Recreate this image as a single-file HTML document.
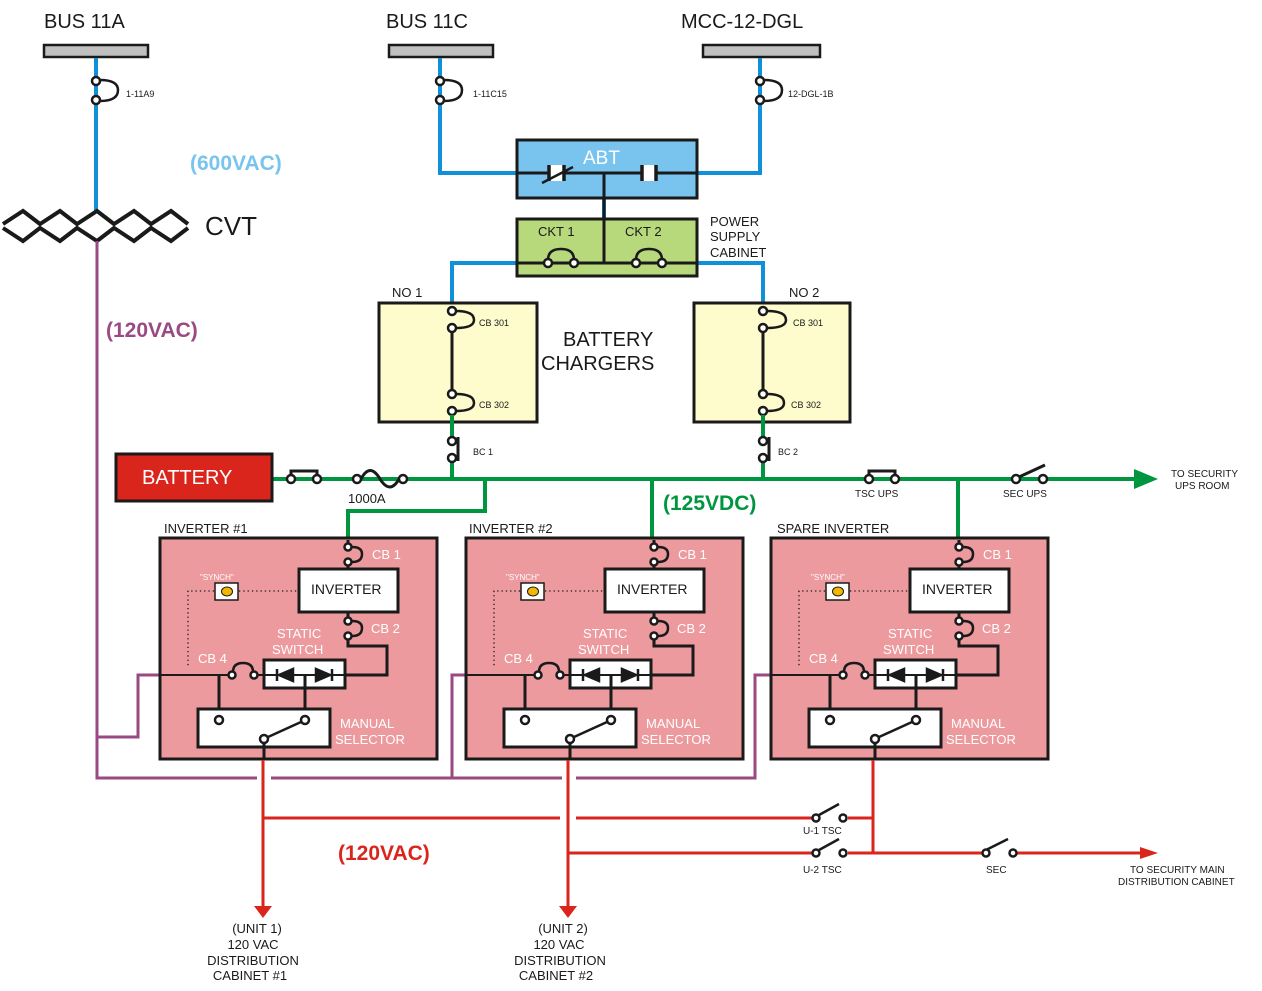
<!DOCTYPE html>
<html><head><meta charset="utf-8"><style>
html,body{margin:0;padding:0;background:#fff;}
svg{display:block;font-family:"Liberation Sans",sans-serif;}
</style></head><body>
<svg width="1262" height="991" viewBox="0 0 1262 991" xmlns="http://www.w3.org/2000/svg">
<defs>
<g id="inv">
  <rect x="160" y="538" width="277" height="221" fill="#ec9a9e" stroke="#1a1a1a" stroke-width="3"/>
  <path d="M348 540 V547" stroke="#1a1a1a" stroke-width="3"/>
  <path d="M352 547 Q362 547 362 554 Q362 562 352 562" fill="none" stroke="#1a1a1a" stroke-width="2.5"/>
  <circle cx="348" cy="547" r="3.5" fill="#fff" stroke="#1a1a1a" stroke-width="2.5"/>
  <circle cx="348" cy="562" r="3.5" fill="#fff" stroke="#1a1a1a" stroke-width="2.5"/>
  <path d="M348 565 V569" stroke="#1a1a1a" stroke-width="3"/>
  <rect x="299" y="569" width="99" height="43" fill="#fff" stroke="#1a1a1a" stroke-width="3"/>
  <text x="311" y="594" font-size="14" fill="#1a1a1a">INVERTER</text>
  <text x="372" y="559" font-size="13" fill="#fff">CB 1</text>
  <path d="M348 612 V621" stroke="#1a1a1a" stroke-width="3"/>
  <path d="M352 621 Q362 621 362 628 Q362 636 352 636" fill="none" stroke="#1a1a1a" stroke-width="2.5"/>
  <circle cx="348" cy="621" r="3.5" fill="#fff" stroke="#1a1a1a" stroke-width="2.5"/>
  <circle cx="348" cy="636" r="3.5" fill="#fff" stroke="#1a1a1a" stroke-width="2.5"/>
  <text x="371" y="633" font-size="13" fill="#fff">CB 2</text>
  <path d="M348 639 V646 H387 V675 H345" fill="none" stroke="#1a1a1a" stroke-width="3"/>
  <text x="277" y="638" font-size="13" fill="#fff">STATIC</text>
  <text x="272" y="654" font-size="13" fill="#fff">SWITCH</text>
  <rect x="264" y="660" width="81" height="28" fill="#fff" stroke="#1a1a1a" stroke-width="3"/>
  <path d="M264 675 H345" stroke="#1a1a1a" stroke-width="2"/>
  <path d="M277 669 V681 M279 675 L293 669 V681 Z" fill="#1a1a1a" stroke="#1a1a1a" stroke-width="2.5"/>
  <path d="M332 669 V681 M330 675 L316 669 V681 Z" fill="#1a1a1a" stroke="#1a1a1a" stroke-width="2.5"/>
  <path d="M305 675 V709" stroke="#1a1a1a" stroke-width="3"/>
  <path d="M160 675 H229 M257 675 H264" stroke="#1a1a1a" stroke-width="2"/>
  <path d="M233 672 Q233 663 243 663 Q253 663 253 672" fill="none" stroke="#1a1a1a" stroke-width="2.5"/>
  <circle cx="232" cy="675" r="3.5" fill="#fff" stroke="#1a1a1a" stroke-width="2.5"/>
  <circle cx="254" cy="675" r="3.5" fill="#fff" stroke="#1a1a1a" stroke-width="2.5"/>
  <text x="198" y="663" font-size="13" fill="#fff">CB 4</text>
  <path d="M219 675 V709" stroke="#1a1a1a" stroke-width="3"/>
  <rect x="198" y="709" width="132" height="38" fill="#fff" stroke="#1a1a1a" stroke-width="3"/>
  <circle cx="219" cy="720" r="4" fill="#fff" stroke="#1a1a1a" stroke-width="2.5"/>
  <circle cx="305" cy="720" r="4" fill="#fff" stroke="#1a1a1a" stroke-width="2.5"/>
  <path d="M268 737 L301 722" stroke="#1a1a1a" stroke-width="2.5"/>
  <circle cx="264" cy="739" r="4" fill="#fff" stroke="#1a1a1a" stroke-width="2.5"/>
  <path d="M264 743 V759" stroke="#1a1a1a" stroke-width="3"/>
  <text x="340" y="728" font-size="13" fill="#fff">MANUAL</text>
  <text x="335" y="744" font-size="13" fill="#fff">SELECTOR</text>
  <text x="200" y="580" font-size="8" fill="#fff">"SYNCH"</text>
  <rect x="215" y="583" width="23" height="17" fill="#fff" stroke="#1a1a1a" stroke-width="1.5"/>
  <ellipse cx="227" cy="591.5" rx="5.5" ry="4.5" fill="#f0b800" stroke="#1a1a1a" stroke-width="1"/>
  <path d="M239 591 H299 M214 591 H188 V667" fill="none" stroke="#1a1a1a" stroke-width="1.3" stroke-dasharray="1.3 3"/>
</g>
</defs>

<g font-size="20" fill="#1a1a1a">
<text x="44" y="28">BUS 11A</text><text x="386" y="28">BUS 11C</text><text x="681" y="28">MCC-12-DGL</text>
<text x="205" y="235" font-size="26">CVT</text>
</g>
<rect x="44" y="45" width="104" height="12" fill="#c0c0c0" stroke="#1a1a1a" stroke-width="2.5"/>
<rect x="389" y="45" width="104" height="12" fill="#c0c0c0" stroke="#1a1a1a" stroke-width="2.5"/>
<rect x="703" y="45" width="117" height="12" fill="#c0c0c0" stroke="#1a1a1a" stroke-width="2.5"/>

<g stroke="#1090d8" stroke-width="4" fill="none">
<path d="M96 58 V211"/>
<path d="M440 58 V173 H517"/>
<path d="M760 58 V173 H697"/>
<path d="M604 198 V219"/>
<path d="M517 263 H452 V303"/>
<path d="M697 263 H763 V303"/>
</g>
<g fill="none" stroke="#1a1a1a" stroke-width="2.5">
<path d="M100 80 Q118 80 118 90 Q118 101 100 101"/>
<path d="M444 80 Q462 80 462 90 Q462 101 444 101"/>
<path d="M764 80 Q782 80 782 90 Q782 101 764 101"/>
</g>
<g fill="#fff" stroke="#1a1a1a" stroke-width="2.5">
<circle cx="96" cy="81" r="4"/><circle cx="96" cy="100" r="4"/>
<circle cx="440" cy="81" r="4"/><circle cx="440" cy="100" r="4"/>
<circle cx="760" cy="81" r="4"/><circle cx="760" cy="100" r="4"/>
</g>
<g font-size="9" fill="#1a1a1a">
<text x="126" y="97">1-11A9</text><text x="473" y="97">1-11C15</text><text x="788" y="97">12-DGL-1B</text>
</g>
<text x="190" y="170" font-size="21" font-weight="bold" fill="#78c4ee">(600VAC)</text>

<g fill="none" stroke="#1a1a1a" stroke-width="4">
<path d="M3 224 L23 211 L40 224 L60 211 L77 224 L97 211 L114 224 L134 211 L151 224 L171 211 L188 224"/>
<path d="M3 228 L23 241 L40 228 L60 241 L77 228 L97 241 L114 228 L134 241 L151 228 L171 241 L188 228"/>
</g>

<rect x="517" y="140" width="180" height="58" fill="#78c4ee" stroke="#1a1a1a" stroke-width="3"/>
<text x="583" y="164" font-size="19" fill="#fff">ABT</text>
<path d="M517 173 H697 M604 173 V263" stroke="#1a1a1a" stroke-width="3"/>
<rect x="549" y="165" width="15" height="16" fill="#fff"/>
<path d="M549 165 V181 M564 165 V181" stroke="#1a1a1a" stroke-width="3.5"/>
<path d="M542 183 L573 167" stroke="#1a1a1a" stroke-width="2.5"/>
<rect x="642" y="165" width="14" height="16" fill="#fff"/>
<path d="M642 165 V181 M656 165 V181" stroke="#1a1a1a" stroke-width="3.5"/>

<rect x="517" y="219" width="180" height="57" fill="#b8d87c" stroke="#1a1a1a" stroke-width="3"/>
<path d="M604 219 V263 M517 263 H697" stroke="#1a1a1a" stroke-width="3"/>
<text x="538" y="236" font-size="13" fill="#1a1a1a">CKT 1</text>
<text x="625" y="236" font-size="13" fill="#1a1a1a">CKT 2</text>
<path d="M548 260 Q548 249 561 249 Q574 249 574 260 M636 260 Q636 249 649 249 Q662 249 662 260" fill="none" stroke="#1a1a1a" stroke-width="2.5"/>
<g fill="#fff" stroke="#1a1a1a" stroke-width="2.5">
<circle cx="548" cy="263" r="4"/><circle cx="574" cy="263" r="4"/><circle cx="636" cy="263" r="4"/><circle cx="662" cy="263" r="4"/>
</g>
<g font-size="13" fill="#1a1a1a"><text x="710" y="226">POWER</text><text x="710" y="241">SUPPLY</text><text x="710" y="257">CABINET</text></g>

<g font-size="13" fill="#1a1a1a"><text x="392" y="297">NO 1</text><text x="789" y="297">NO 2</text></g>
<text x="563" y="346" font-size="20" fill="#1a1a1a">BATTERY</text>
<text x="541" y="370" font-size="20" fill="#1a1a1a">CHARGERS</text>
<rect x="379" y="303" width="158" height="119" fill="#fefccc" stroke="#1a1a1a" stroke-width="3"/>
<rect x="694" y="303" width="156" height="119" fill="#fefccc" stroke="#1a1a1a" stroke-width="3"/>
<g stroke="#1a1a1a" stroke-width="3"><path d="M452 328 V394"/><path d="M763 328 V394"/></g>
<g fill="none" stroke="#1a1a1a" stroke-width="2.5">
<path d="M456 311 Q474 311 474 320 Q474 328 456 328"/>
<path d="M456 394 Q474 394 474 403 Q474 411 456 411"/>
<path d="M767 311 Q786 311 786 320 Q786 328 767 328"/>
<path d="M767 394 Q784 394 784 403 Q784 411 767 411"/>
</g>
<g fill="#fff" stroke="#1a1a1a" stroke-width="2.5">
<circle cx="452" cy="311" r="4"/><circle cx="452" cy="328" r="4"/><circle cx="452" cy="394" r="4"/><circle cx="452" cy="411" r="4"/>
<circle cx="763" cy="311" r="4"/><circle cx="763" cy="328" r="4"/><circle cx="763" cy="394" r="4"/><circle cx="763" cy="411" r="4"/>
</g>
<g font-size="9" fill="#1a1a1a">
<text x="479" y="326">CB 301</text><text x="479" y="408">CB 302</text>
<text x="793" y="326">CB 301</text><text x="791" y="408">CB 302</text>
<text x="473" y="455">BC 1</text><text x="778" y="455">BC 2</text>
</g>

<g stroke="#009640" stroke-width="4" fill="none">
<path d="M452 415 V437 M452 462 V479"/>
<path d="M763 415 V437 M763 462 V479"/>
<path d="M273 479 H1138"/>
<path d="M485 479 V511 H348 V538"/>
<path d="M652 479 V538"/>
<path d="M958 479 V538"/>
</g>
<path d="M1134 469 L1158 479 L1134 489 Z" fill="#009640"/>
<g stroke="#1a1a1a" stroke-width="3" fill="none">
<path d="M458 437 V461"/><path d="M769 437 V461"/>
<path d="M291 475 V471 H317 V475"/>
<path d="M361 479 Q370 462 380 479 Q390 495 399 479"/>
<path d="M869 475 V471 H895 V475"/>
<path d="M1019 477 L1045 465"/>
</g>
<g fill="#fff" stroke="#1a1a1a" stroke-width="2.5">
<circle cx="452" cy="441" r="4"/><circle cx="452" cy="458" r="4"/>
<circle cx="763" cy="441" r="4"/><circle cx="763" cy="458" r="4"/>
<circle cx="291" cy="479" r="4"/><circle cx="317" cy="479" r="4"/>
<circle cx="357" cy="479" r="4"/><circle cx="403" cy="479" r="4"/>
<circle cx="869" cy="479" r="4"/><circle cx="895" cy="479" r="4"/>
<circle cx="1016" cy="479" r="4"/><circle cx="1043" cy="479" r="4"/>
</g>
<rect x="116" y="454" width="156" height="47" fill="#da251d" stroke="#1a1a1a" stroke-width="3"/>
<text x="142" y="484" font-size="20" fill="#fff">BATTERY</text>
<text x="348" y="503" font-size="13" fill="#1a1a1a">1000A</text>
<text x="663" y="510" font-size="21" font-weight="bold" fill="#009640">(125VDC)</text>
<g font-size="10" fill="#1a1a1a">
<text x="855" y="497">TSC UPS</text><text x="1003" y="497">SEC UPS</text>
<text x="1171" y="477">TO SECURITY</text><text x="1175" y="489">UPS ROOM</text>
</g>

<g stroke="#9a4a82" stroke-width="3" fill="none">
<path d="M97 241 V778 H257 M271 778 H562 M576 778 H755 V675 H772"/>
<path d="M97 737 H138 V675 H160"/>
<path d="M452 778 V675 H467"/>
</g>
<text x="106" y="337" font-size="21" font-weight="bold" fill="#9a4a82">(120VAC)</text>

<text x="164" y="533" font-size="13" fill="#1a1a1a">INVERTER #1</text>
<text x="469" y="533" font-size="13" fill="#1a1a1a">INVERTER #2</text>
<text x="777" y="533" font-size="13" fill="#1a1a1a">SPARE INVERTER</text>
<use href="#inv"/>
<use href="#inv" transform="translate(306,0)"/>
<use href="#inv" transform="translate(611,0)"/>

<g stroke="#da251d" stroke-width="3" fill="none">
<path d="M263 760 V906"/>
<path d="M568 760 V906"/>
<path d="M263 818 H560 M576 818 H815 M848 818 H873"/>
<path d="M568 853 H815 M848 853 H983 M1016 853 H1140"/>
<path d="M873 760 V853"/>
</g>
<path d="M254 906 L263 918 L272 906 Z M559 906 L568 918 L577 906 Z M1140 847 L1158 853 L1140 859 Z" fill="#da251d"/>
<g stroke="#1a1a1a" stroke-width="2.5" fill="none">
<path d="M819 815 L839 804"/><path d="M819 850 L839 839"/><path d="M986 850 L1008 839"/>
</g>
<g fill="#fff" stroke="#1a1a1a" stroke-width="2.5">
<circle cx="816" cy="818" r="3.5"/><circle cx="843" cy="818" r="3.5"/>
<circle cx="816" cy="853" r="3.5"/><circle cx="843" cy="853" r="3.5"/>
<circle cx="986" cy="853" r="3.5"/><circle cx="1013" cy="853" r="3.5"/>
</g>
<g font-size="10" fill="#1a1a1a">
<text x="803" y="834">U-1 TSC</text><text x="803" y="873">U-2 TSC</text><text x="986" y="873">SEC</text>
<text x="1130" y="873">TO SECURITY MAIN</text><text x="1118" y="885">DISTRIBUTION CABINET</text>
</g>
<text x="338" y="860" font-size="21" font-weight="bold" fill="#da251d">(120VAC)</text>
<g font-size="13" fill="#1a1a1a" text-anchor="middle">
<text x="257" y="933">(UNIT 1)</text><text x="253" y="949">120 VAC</text><text x="253" y="965">DISTRIBUTION</text><text x="250" y="980">CABINET #1</text>
<text x="563" y="933">(UNIT 2)</text><text x="559" y="949">120 VAC</text><text x="560" y="965">DISTRIBUTION</text><text x="556" y="980">CABINET #2</text>
</g>
</svg>
</body></html>
